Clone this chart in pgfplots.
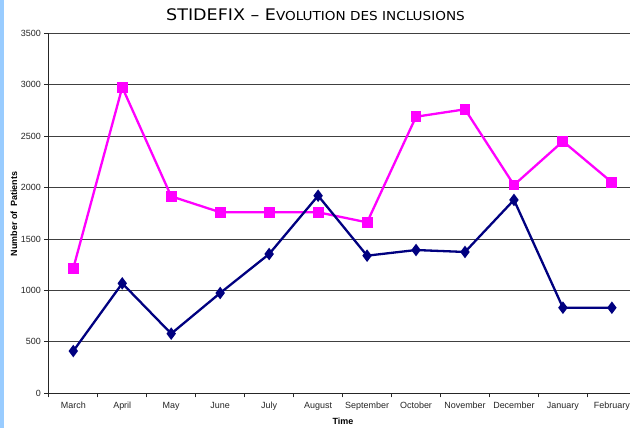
\documentclass[border=0pt]{standalone}
\usepackage{fontspec}
\setmainfont{Liberation Sans}
\newfontfamily\titlefont[FakeStretch=1.1]{DejaVu Sans}
\usepackage{pgfplots}
\pgfplotsset{compat=1.18}
\definecolor{navy}{RGB}{0,0,128}
\definecolor{mag}{RGB}{255,0,255}
\definecolor{stripe}{RGB}{153,204,255}
\begin{document}
\begin{tikzpicture}[x=1bp,y=1bp]
\useasboundingbox (0,0) rectangle (630,428);
\fill[white] (0,0) rectangle (630,428);
\fill[stripe] (0,0) rectangle (3.5,428);
\begin{axis}[
  at={(48.8bp,34.7bp)}, anchor=south west, scale only axis,
  width=581.2bp, height=360bp,
  xmin=-0.5, xmax=11.37, ymin=0, ymax=3500,
  axis x line=bottom, axis y line=left,
  axis line style={-, line width=1bp, black!85},
  tick align=outside,
  xtick={0,...,11},
  xticklabels={March,April,May,June,July,August,September,October,November,December,January,February},
  minor xtick={-0.5,0.5,...,11.5},
  major x tick style={draw=none},
  minor x tick style={line width=0.8bp, black!85},
  minor tick length=4bp,
  ytick={0,500,...,3500},
  major tick length=4.5bp,
  y tick style={line width=0.8bp, black!85},
  ymajorgrids,
  grid style={line width=0.8bp, black!75},
  tick label style={font=\fontsize{9}{10}\selectfont, text=black!85},
  /pgf/number format/assume math mode=true,
  /pgf/number format/1000 sep={},
  xticklabel style={yshift=-1bp},
  clip=false,
]
\addplot[mag, line width=2.3bp, mark=square*, mark size=4.3bp, mark options={solid, fill=mag}]
  coordinates {(0,1215) (1,2975) (2,1915) (3,1760) (4,1760) (5,1760) (6,1662) (7,2689) (8,2761) (9,2025) (10,2450) (11,2051)};
\addplot[navy, line width=2.3bp, mark=diamond*, mark size=4.4bp, mark options={solid, fill=navy}]
  coordinates {(0,411) (1,1069) (2,580) (3,975) (4,1354) (5,1921) (6,1338) (7,1393) (8,1374) (9,1880) (10,832) (11,832)};
\end{axis}
\node at (315.5,413) {\titlefont\fontsize{16}{18}\selectfont STIDEFIX – E\fontsize{12.4}{14}\selectfont VOLUTION DES INCLUSIONS};
\node[rotate=90] at (14,214) {\fontsize{9}{10}\selectfont\bfseries Number of\ \ Patients};
\node at (343,6.5) {\fontsize{9}{10}\selectfont\bfseries Time};
\end{tikzpicture}
\end{document}
